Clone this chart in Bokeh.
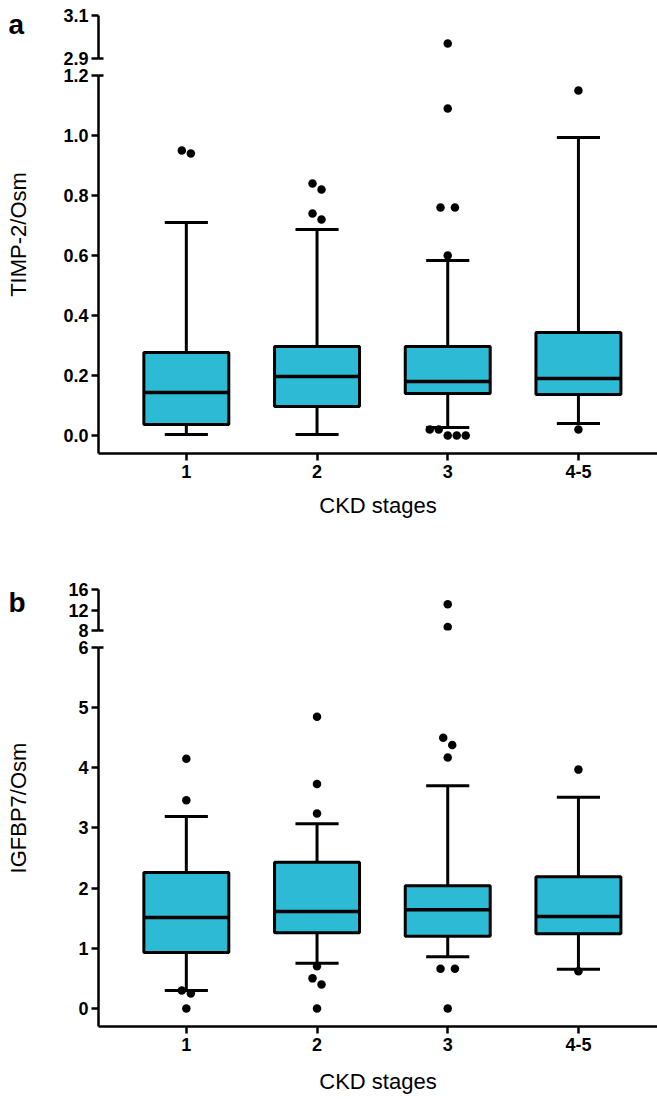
import numpy as np
from bokeh.plotting import figure
from bokeh.layouts import column, row
from bokeh.models import Range1d, FixedTicker, PrintfTickFormatter
from bokeh.core.properties import value
from bokeh.embed import file_html
from bokeh.resources import INLINE

# ---------------- data ----------------
categories = ["1", "2", "3", "4-5"]
x_title = "CKD stages"

# Panel a: TIMP-2/Osm
timp_q1 = [0.037, 0.097, 0.140, 0.137]
timp_median = [0.143, 0.197, 0.180, 0.190]
timp_q3 = [0.277, 0.297, 0.297, 0.343]
timp_whisker_low = [0.003, 0.003, 0.027, 0.040]
timp_whisker_high = [0.710, 0.687, 0.583, 0.993]
timp_outliers_1 = [0.95, 0.94]
timp_outliers_2 = [0.84, 0.82, 0.74, 0.72]
timp_outliers_3 = [2.97, 1.09, 0.76, 0.76, 0.60, 0.02, 0.02, 0.0, 0.0, 0.0]
timp_outliers_45 = [1.15, 0.02]
timp_upper_ticks = [2.9, 3.1]
timp_lower_ticks = [0.0, 0.2, 0.4, 0.6, 0.8, 1.0, 1.2]

# Panel b: IGFBP7/Osm
igfbp_q1 = [0.93, 1.26, 1.20, 1.24]
igfbp_median = [1.51, 1.61, 1.64, 1.53]
igfbp_q3 = [2.26, 2.43, 2.04, 2.19]
igfbp_whisker_low = [0.30, 0.75, 0.86, 0.65]
igfbp_whisker_high = [3.19, 3.07, 3.70, 3.51]
igfbp_outliers_1 = [4.15, 3.46, 0.30, 0.25, 0.0]
igfbp_outliers_2 = [4.85, 3.73, 3.24, 0.70, 0.50, 0.40, 0.0]
igfbp_outliers_3 = [13.1, 8.7, 4.50, 4.38, 4.17, 0.66, 0.66, 0.0]
igfbp_outliers_45 = [3.97, 0.62]
igfbp_upper_ticks = [8, 12, 16]
igfbp_lower_ticks = [0, 1, 2, 3, 4, 5, 6]

# ---------------- style / layout ----------------
FILL = "#2cbad4"
FONT = "Liberation Sans"
LABEL_W = 56          # strip holding panel letter + y title
LEFT = 98 - LABEL_W   # left border of plot figures
FRAME_W = 559
X0, X1 = 0.328, 4.605
PXU = FRAME_W / (X1 - X0)
BOX_W = 0.65
CAP_W = 0.33
DOT = 8.5


def swarm(values, px_per_unit, step=9.0, diam=8.0):
    """Place close outliers side by side (centred rows)."""
    vals = np.asarray(values, dtype=float)
    order = np.argsort(-vals)
    offs = np.zeros(len(vals))
    clusters = []
    for i in order:
        if clusters and abs(vals[clusters[-1][-1]] - vals[i]) * px_per_unit < diam:
            clusters[-1].append(i)
        else:
            clusters.append([i])
    for c in clusters:
        n = len(c)
        spread = np.ptp(vals[c]) * px_per_unit
        st = step if spread > 2 else step * 1.6
        for k, i in enumerate(c):
            offs[i] = (k - (n - 1) / 2) * st / PXU
    return offs


def style_axis(ax):
    ax.major_label_text_font = FONT
    ax.major_label_text_font_size = "18px"
    ax.major_label_text_font_style = "bold"
    ax.major_label_text_color = "black"
    ax.axis_line_width = 2.5
    ax.axis_line_color = "black"
    ax.major_tick_line_width = 2.5
    ax.major_tick_line_color = "black"
    ax.major_tick_out = 7
    ax.major_tick_in = 0
    ax.minor_tick_out = 0
    ax.minor_tick_in = 0


def style_y(p, ticks, fmt, break_at):
    ax = p.yaxis[0]
    # the minor tick marks the axis break (short inward cap)
    ax.ticker = FixedTicker(ticks=ticks, minor_ticks=[break_at])
    ax.formatter = PrintfTickFormatter(format=fmt)
    style_axis(ax)
    ax.minor_tick_in = 5
    ax.minor_tick_out = 0
    ax.minor_tick_line_width = 2.5
    ax.minor_tick_line_color = "black"
    ax.major_label_standoff = 3


def style_x(p, title_standoff):
    ax = p.xaxis[0]
    ax.ticker = FixedTicker(ticks=list(range(1, len(categories) + 1)))
    ax.major_label_overrides = {i + 1: c for i, c in enumerate(categories)}
    style_axis(ax)
    ax.major_label_standoff = 4
    ax.axis_label = x_title
    ax.axis_label_text_font = FONT
    ax.axis_label_text_font_size = "22px"
    ax.axis_label_text_font_style = "normal"
    ax.axis_label_text_color = "black"
    ax.axis_label_standoff = title_standoff


def make_fig(frame_h, y0, y1, top, bottom, show_x):
    p = figure(frame_width=FRAME_W, frame_height=frame_h,
               x_range=Range1d(X0, X1), y_range=Range1d(y0, y1),
               output_backend="svg", toolbar_location=None,
               min_border_left=LEFT, min_border_right=0,
               min_border_top=top, min_border_bottom=bottom,
               x_axis_location="below" if show_x else None,
               y_axis_location="left")
    p.grid.visible = False
    p.outline_line_color = None
    p.background_fill_color = "white"
    p.border_fill_color = "white"
    return p


def draw_boxes(p, q1, med, q3, wlo, whi):
    pos = np.arange(1, len(categories) + 1, dtype=float)
    q1 = np.asarray(q1); q3 = np.asarray(q3); med = np.asarray(med)
    wlo = np.asarray(wlo); whi = np.asarray(whi)
    p.segment(x0=pos, y0=q3, x1=pos, y1=whi, line_color="black", line_width=3)
    p.segment(x0=pos, y0=q1, x1=pos, y1=wlo, line_color="black", line_width=3)
    p.segment(x0=pos - CAP_W / 2, y0=whi, x1=pos + CAP_W / 2, y1=whi,
              line_color="black", line_width=3)
    p.segment(x0=pos - CAP_W / 2, y0=wlo, x1=pos + CAP_W / 2, y1=wlo,
              line_color="black", line_width=3)
    p.vbar(x=pos, width=BOX_W, bottom=q1, top=q3, fill_color=FILL,
           line_color="black", line_width=3)
    p.segment(x0=pos - BOX_W / 2, y0=med, x1=pos + BOX_W / 2, y1=med,
              line_color="black", line_width=3.5)


def draw_outliers(p, outliers, y0, y1, px_per_unit):
    pos = np.arange(1, len(categories) + 1, dtype=float)
    xs, ys = [], []
    for i, vals in enumerate(outliers):
        offs = swarm(vals, px_per_unit)
        for o, v in zip(offs, vals):
            if y0 <= v <= y1:
                xs.append(pos[i] + o)
                ys.append(v)
    p.scatter(x=xs, y=ys, size=DOT, fill_color="black", line_color=None)


def label_strip(height, letter, letter_baseline, ytitle, ytitle_center):
    s = figure(frame_width=LABEL_W, frame_height=height,
               x_range=Range1d(0, LABEL_W), y_range=Range1d(height, 0),
               output_backend="svg", toolbar_location=None,
               min_border_left=0, min_border_right=0,
               min_border_top=0, min_border_bottom=0,
               x_axis_location=None, y_axis_location=None)
    s.grid.visible = False
    s.outline_line_color = None
    s.text(x=[8], y=[letter_baseline], text=[letter], text_font=value(FONT),
           text_font_size=value("28px"), text_font_style="bold",
           text_color="black", text_baseline="alphabetic", text_align="left")
    s.text(x=[17.5], y=[ytitle_center], text=[ytitle], angle=np.pi / 2,
           text_font=value(FONT), text_font_size=value("22px"),
           text_color="black", text_baseline="middle", text_align="center")
    return s


def panel(letter, ylabel, up_range, up_h, up_ticks, up_fmt, lo_range, lo_h,
          lo_ticks, lo_fmt, stats, outliers, borders, title_standoff,
          letter_baseline):
    t_up, b_up, t_lo, b_lo = borders
    f_up = make_fig(up_h, up_range[0], up_range[1], t_up, b_up, False)
    f_lo = make_fig(lo_h, lo_range[0], lo_range[1], t_lo, b_lo, True)
    up_ppu = up_h / (up_range[1] - up_range[0])
    lo_ppu = lo_h / (lo_range[1] - lo_range[0])
    draw_boxes(f_lo, *stats)
    draw_outliers(f_up, outliers, up_range[0], up_range[1], up_ppu)
    draw_outliers(f_lo, outliers, lo_range[0], lo_range[1], lo_ppu)
    style_y(f_up, up_ticks, up_fmt, up_ticks[0])
    style_y(f_lo, lo_ticks, lo_fmt, lo_ticks[-1])
    style_x(f_lo, title_standoff)
    total_h = t_up + up_h + b_up + t_lo + lo_h + b_lo
    axis_mid = (t_up + (t_up + up_h + b_up + t_lo + lo_h)) / 2
    strip = label_strip(total_h, letter, letter_baseline, ylabel, axis_mid)
    return row(strip, column(f_up, f_lo, spacing=0), spacing=0)


panel_a = panel("a", "TIMP-2/Osm", (2.9, 3.1), 43, timp_upper_ticks, "%.1f",
                (-0.06, 1.2), 378, timp_lower_ticks, "%.1f",
                (timp_q1, timp_median, timp_q3, timp_whisker_low, timp_whisker_high),
                [timp_outliers_1, timp_outliers_2, timp_outliers_3, timp_outliers_45],
                (15, 9, 8, 80), 12, 24)
panel_b = panel("b", "IGFBP7/Osm", (8, 16), 41, igfbp_upper_ticks, "%d",
                (-0.3, 6), 379, igfbp_lower_ticks, "%d",
                (igfbp_q1, igfbp_median, igfbp_q3, igfbp_whisker_low, igfbp_whisker_high),
                [igfbp_outliers_1, igfbp_outliers_2, igfbp_outliers_3, igfbp_outliers_45],
                (56, 9, 8, 73), 15, 69)

layout = column(panel_a, panel_b, spacing=0)
open("out.html", "w").write(file_html(layout, INLINE))
